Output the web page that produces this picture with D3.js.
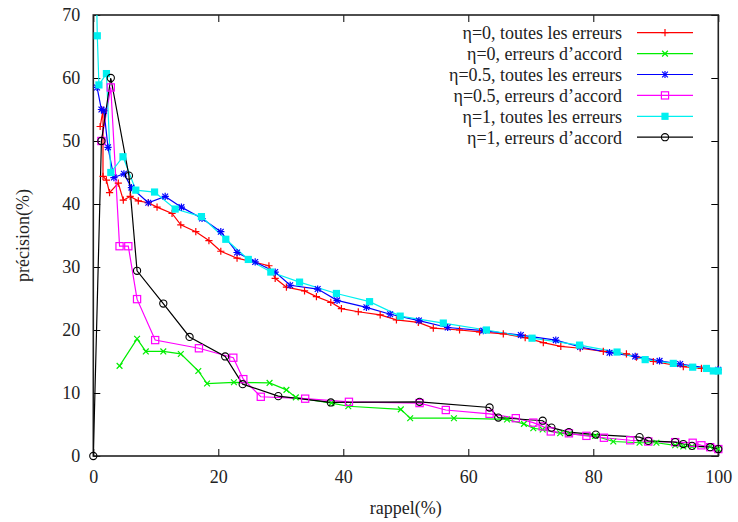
<!DOCTYPE html>
<html lang="fr">
<head>
<meta charset="UTF-8">
<title>précision / rappel</title>
<script src="https://cdn.jsdelivr.net/npm/d3@7"></script>
<style>
  body { margin: 0; background: #fff; }
</style>
</head>
<body>
<svg id="main" width="738" height="522"></svg>
<script>
// data: [rappel, précision]
const tout0 = [[1.1,52.3],[1.55,54.9],[1.55,44.4],[2.1,43.8],[2.6,41.8],[4.0,43.3],[4.8,40.6],[5.9,41.2],[7.2,40.5],[8.8,40.2],
  [10.2,39.5],[12.6,38.5],[14.0,36.7],[16.4,35.6],[18.5,34.2],[20.4,32.5],[23.0,31.4],[28.1,30.2],[29.1,28.2],[30.9,26.8],
  [33.8,26.2],[35.7,25.3],[38.0,24.4],[39.7,23.4],[42.4,22.9],[45.9,22.4],[48.5,21.6],[52.0,21.2],[54.4,20.3],[58.6,20.0],
  [61.8,19.7],[65.6,19.4],[69.1,18.8],[72.0,18.0],[74.8,17.4],[77.9,17.1],[81.6,16.6],[85.3,16.2],[86.9,15.7],[89.6,15.0],
  [94.4,14.2],[97.3,13.9],[100,13.7]];
const accord0 = [[4.2,14.3],[7.0,18.6],[8.4,16.6],[11.2,16.6],[14.0,16.2],[16.8,13.5],[18.2,11.5],[22.5,11.7],[28.2,11.6],
  [30.9,10.5],[32.4,9.3],[38.1,8.4],[40.8,7.9],[49.2,7.4],[50.7,6.0],[57.7,6.0],[66.2,5.8],[68.9,5.1],[70.4,4.4],[71.9,4.2],
  [74.7,3.6],[76.2,3.5],[80.3,3.2],[83.2,2.3],[87.4,2.1],[90.1,2.1],[93.1,1.7],[94.4,1.5],[95.8,1.5],[98.7,1.5],[100,1.1]];
const tout05 = [[0.6,58.5],[1.3,55.0],[1.7,54.8],[2.35,49.0],[3.3,44.2],[4.9,44.8],[6.1,42.6],[8.8,40.2],[11.5,41.2],
  [14.1,39.5],[17.4,37.7],[20.4,35.6],[23.0,32.3],[25.9,30.8],[29.1,29.2],[31.5,27.1],[35.9,26.5],[39.0,24.7],[43.7,23.6],
  [47.5,22.5],[52.1,21.5],[56.7,20.4],[62.4,19.9],[68.4,19.2],[74.0,18.4],[77.9,17.3],[82.6,16.4],[86.7,15.8],[90.6,15.1],
  [93.9,14.6],[100,13.7]];
const accord05 = [[1.3,50.0],[2.8,58.5],[4.2,33.3],[5.6,33.3],[7.0,24.9],[9.9,18.4],[16.9,17.1],[22.4,15.6],[24.0,12.2],
  [26.8,9.4],[33.9,9.1],[40.9,8.6],[52.2,8.4],[56.4,7.3],[63.4,6.7],[67.6,6.0],[70.4,5.3],[71.9,4.7],[73.2,3.9],[76.1,3.6],
  [78.9,3.2],[81.7,2.9],[85.9,2.5],[88.8,2.3],[93.1,2.2],[95.9,2.1],[97.3,1.7],[98.7,1.4],[100,1.1]];
const tout1 = [[0,100],[0.64,66.7],[0.9,58.9],[2.1,60.7],[2.8,45.0],[4.75,47.5],[6.8,42.2],[9.8,41.9],[13.1,39.2],
  [17.3,38.0],[21.2,34.4],[24.8,31.2],[28.4,29.2],[33.0,27.6],[38.9,25.8],[44.2,24.5],[49.1,22.2],[56.0,21.1],[62.9,20.0],
  [70.2,18.7],[77.8,17.6],[83.8,16.5],[88.3,15.3],[92.8,14.7],[95.9,14.1],[98.1,13.9],[99.2,13.5],[100,13.5]];
const accord1 = [[0,0],[1.3,50.0],[2.8,60.0],[5.7,44.5],[7.0,29.4],[11.2,24.2],[15.4,18.9],[21.1,15.8],[23.9,11.4],
  [29.6,9.5],[38.0,8.5],[52.2,8.6],[63.4,7.7],[64.8,6.1],[71.9,5.6],[73.3,4.5],[76.1,3.8],[80.4,3.4],[87.4,3.0],[88.8,2.4],
  [93.1,2.2],[94.4,1.9],[95.8,1.6],[98.7,1.4],[100,1.1]];

const names = ['η=0, toutes les erreurs', 'η=0, erreurs d\u2019accord', 'η=0.5, toutes les erreurs',
  'η=0.5, erreurs d\u2019accord', 'η=1, toutes les erreurs', 'η=1, erreurs d\u2019accord'];
const seriesData = [tout0, accord0, tout05, accord05, tout1, accord1];
const colors = ['#ff0000', '#00ee00', '#0000ff', '#ff00ff', '#00f0f0', '#000000'];
const markers = ['plus', 'cross', 'star', 'box', 'fbox', 'circle'];
const xTicks = [0, 20, 40, 60, 80, 100];
const yTicks = [0, 10, 20, 30, 40, 50, 60, 70];

const FONT = "Liberation Serif, DejaVu Serif, serif";

let svg = d3.select('svg#main');
let m = {left: 93.3, right: 19.7, top: 15, bottom: 66};
let W = 738, H = 522;

let x = d3.scaleLinear().domain([0, 100]).range([m.left, W - m.right]);
let y = d3.scaleLinear().domain([0, 70]).range([H - m.bottom, m.top]);

svg.append('clipPath').attr('id', 'clip')
  .append('rect').attr('x', m.left).attr('y', m.top)
  .attr('width', W - m.left - m.right).attr('height', H - m.top - m.bottom);

// axes, gnuplot style: ticks inward and mirrored
let tl = 7;
let axB = svg.append('g').attr('transform', `translate(0,${y(0)})`)
  .call(d3.axisBottom(x).tickValues(xTicks).tickSize(-tl).tickPadding(14));
let axT = svg.append('g').attr('transform', `translate(0,${y(70)})`)
  .call(d3.axisTop(x).tickValues(xTicks).tickSize(-tl).tickFormat(''));
let axL = svg.append('g').attr('transform', `translate(${x(0)},0)`)
  .call(d3.axisLeft(y).tickValues(yTicks).tickSize(-tl).tickPadding(13));
let axR = svg.append('g').attr('transform', `translate(${x(100)},0)`)
  .call(d3.axisRight(y).tickValues(yTicks).tickSize(-tl).tickFormat(''));
[axB, axT, axL, axR].forEach(function(a){
  a.select('.domain').remove();
  a.attr('font-family', FONT).attr('font-size', 18);
  a.selectAll('line').attr('stroke', '#000').attr('stroke-width', 1);
  a.selectAll('text').attr('fill', '#222').attr('font-family', FONT);
});

svg.append('rect').attr('x', x(0)).attr('y', y(70))
  .attr('width', x(100) - x(0)).attr('height', y(0) - y(70))
  .attr('fill', 'none').attr('stroke', '#222').attr('stroke-width', 1.6);

svg.append('text').attr('text-anchor', 'middle')
  .attr('font-family', FONT).attr('font-size', 18).attr('fill', '#222')
  .attr('x', (x(0) + x(100)) / 2).attr('y', 514).text('rappel(%)');
svg.append('text').attr('text-anchor', 'middle')
  .attr('font-family', FONT).attr('font-size', 18).attr('fill', '#222')
  .attr('transform', 'translate(29,' + ((y(0) + y(70)) / 2) + ') rotate(-90)')
  .text('précision(%)');

// point symbols
function drawMarker(g, kind, cx, cy, col) {
  let s = 3.6;
  if (kind === 'plus' || kind === 'star') {
    g.append('path').attr('d', `M${cx - s},${cy}H${cx + s}M${cx},${cy - s}V${cy + s}`)
      .attr('stroke', col).attr('stroke-width', 1.2).attr('fill', 'none');
  }
  if (kind === 'cross' || kind === 'star') {
    let d = s * 0.8;
    g.append('path').attr('d', `M${cx - d},${cy - d}L${cx + d},${cy + d}M${cx - d},${cy + d}L${cx + d},${cy - d}`)
      .attr('stroke', col).attr('stroke-width', 1.2).attr('fill', 'none');
  }
  if (kind === 'box') {
    g.append('rect').attr('x', cx - s).attr('y', cy - s).attr('width', 2 * s).attr('height', 2 * s)
      .attr('stroke', col).attr('stroke-width', 1.2).attr('fill', 'none');
  }
  if (kind === 'fbox') {
    g.append('rect').attr('x', cx - s).attr('y', cy - s).attr('width', 2 * s).attr('height', 2 * s)
      .attr('fill', col);
  }
  if (kind === 'circle') {
    g.append('circle').attr('cx', cx).attr('cy', cy).attr('r', s)
      .attr('stroke', col).attr('stroke-width', 1.1).attr('fill', 'none');
  }
}

let line = d3.line().x(function(d){return x(d[0]);}).y(function(d){return y(d[1]);});
let plot = svg.append('g').attr('clip-path', 'url(#clip)');
let plotPts = svg.append('g');

seriesData.forEach(function(data, i){
  plot.append('path').datum(data).attr('d', line)
    .attr('fill', 'none').attr('stroke', colors[i]).attr('stroke-width', 1.2);
  let g = plotPts.append('g');
  data.forEach(function(d){
    if (d[1] <= 70) drawMarker(g, markers[i], x(d[0]), y(d[1]), colors[i]);
  });
});

// legend
let leg = svg.append('g');
names.forEach(function(n, i){
  let ly = 32.7 + i * 20.9;
  leg.append('text').attr('text-anchor', 'end')
    .attr('font-family', FONT).attr('font-size', 18).attr('fill', '#222')
    .attr('x', 622).attr('y', ly).attr('dy', '0.35em').text(n);
  leg.append('line').attr('x1', 637).attr('x2', 693).attr('y1', ly).attr('y2', ly)
    .attr('stroke', colors[i]).attr('stroke-width', 1.2);
  drawMarker(leg, markers[i], 665, ly, colors[i]);
});
</script>
</body>
</html>
